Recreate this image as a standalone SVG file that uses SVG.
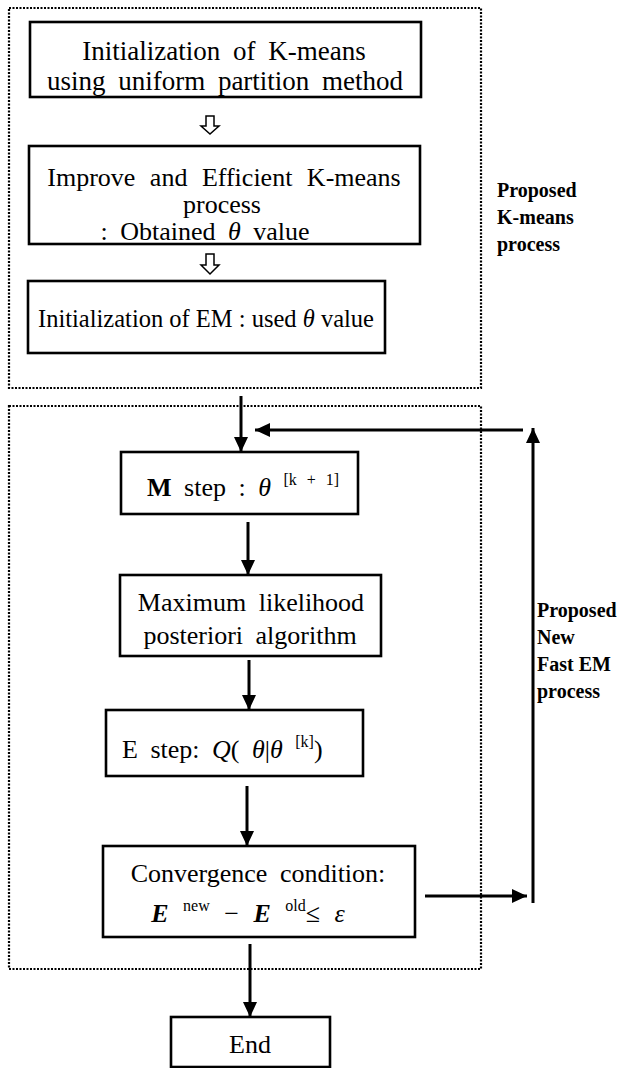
<svg xmlns="http://www.w3.org/2000/svg" width="631" height="1068" viewBox="0 0 631 1068">
<style>
.bg{fill:#fff}
.box{fill:#fff;stroke:#000;stroke-width:2.6}
.dot{fill:none;stroke:#000;stroke-width:2.2;stroke-dasharray:2 1.5}
.t{font-family:"Liberation Serif","Times New Roman",serif;font-size:26px;fill:#000;word-spacing:6px}
.tl{font-size:27px}
.lbl{font-family:"Liberation Serif","Times New Roman",serif;font-size:20px;font-weight:bold;fill:#000}
.sup{font-size:16px}
.it{font-style:italic}
.con{stroke:#000;stroke-width:3;fill:none}
.hollow{fill:#fff;stroke:#000;stroke-width:1.5}
</style>
<defs>
<marker id="ah" markerUnits="userSpaceOnUse" markerWidth="16" markerHeight="14" refX="15" refY="7" orient="auto">
<path d="M0,0 L15,7 L0,14 z" fill="#000"/>
</marker>
</defs>
<rect class="bg" x="0" y="0" width="631" height="1068"/>

<g id="kmeans-frame">
<rect class="dot" x="9" y="8" width="472" height="380"/>
</g>
<g id="em-frame">
<rect class="dot" x="9" y="406" width="472" height="563"/>
</g>

<g id="n1">
<rect class="box" x="30" y="22" width="391" height="75"/>
<text class="t tl" x="224" y="60" text-anchor="middle">Initialization of K-means</text>
<text class="t tl" x="225" y="90" text-anchor="middle">using uniform partition method</text>
</g>
<g id="n2">
<rect class="box" x="29" y="146" width="391" height="98"/>
<text class="t" x="224" y="186" text-anchor="middle" style="word-spacing:8px">Improve and Efficient K-means</text>
<text class="t" x="222" y="213" text-anchor="middle">process</text>
<text class="t" x="205" y="240" text-anchor="middle">: Obtained <tspan class="it">θ</tspan> value</text>
</g>
<g id="n3">
<rect class="box" x="28" y="281" width="357" height="72"/>
<text class="t" x="206" y="327" text-anchor="middle" style="font-size:24.5px;word-spacing:0">Initialization of EM : used <tspan class="it">θ</tspan> value</text>
</g>
<g id="lbl-kmeans">
<text class="lbl" x="497" y="197">Proposed</text>
<text class="lbl" x="497" y="224">K-means</text>
<text class="lbl" x="497" y="251">process</text>
</g>

<g id="n4">
<rect class="box" x="121" y="452" width="237" height="62"/>
<text class="t" x="147" y="496"><tspan font-weight="bold">M</tspan> step : <tspan class="it">θ</tspan> <tspan class="sup" dy="-11">[k + 1]</tspan></text>
</g>
<g id="n5">
<rect class="box" x="120" y="575" width="261" height="81"/>
<text class="t" x="251" y="611" text-anchor="middle">Maximum likelihood</text>
<text class="t" x="250" y="644" text-anchor="middle">posteriori algorithm</text>
</g>
<g id="n6">
<rect class="box" x="106" y="710" width="257" height="66"/>
<text class="t" x="122" y="758">E step: <tspan class="it">Q</tspan>( <tspan class="it">θ</tspan>|<tspan class="it">θ</tspan> <tspan class="sup" dy="-11">[k]</tspan><tspan dy="11">)</tspan></text>
</g>
<g id="n7">
<rect class="box" x="103" y="846" width="312" height="91"/>
<text class="t" x="258" y="882" text-anchor="middle">Convergence condition:</text>
<text class="t" x="248" y="922" text-anchor="middle" style="word-spacing:8px"><tspan class="it" font-weight="bold">E</tspan> <tspan class="sup" dy="-11">new</tspan><tspan dy="11"> − </tspan><tspan class="it" font-weight="bold">E</tspan> <tspan class="sup" dy="-11">old</tspan><tspan dy="11">≤ </tspan><tspan class="it">ε</tspan></text>
</g>
<g id="n8">
<rect class="box" x="171" y="1017" width="159" height="50"/>
<text class="t" x="250" y="1053" text-anchor="middle" font-size="28">End</text>
</g>
<g id="lbl-em">
<text class="lbl" x="537" y="617">Proposed</text>
<text class="lbl" x="537" y="644">New</text>
<text class="lbl" x="537" y="671">Fast EM</text>
<text class="lbl" x="537" y="698">process</text>
</g>

<g id="connectors">
<polygon class="hollow" points="206,116 214,116 214,126 219,126 210,134 201,126 206,126"/>
<polygon class="hollow" points="206,254 214,254 214,265 219,265 210,274 201,265 206,265"/>
<line class="con" x1="241" y1="396" x2="241" y2="452" marker-end="url(#ah)"/>
<line class="con" x1="523" y1="430" x2="255" y2="430" marker-end="url(#ah)"/>
<line class="con" x1="533" y1="903" x2="533" y2="428" marker-end="url(#ah)"/>
<line class="con" x1="248" y1="522" x2="248" y2="575" marker-end="url(#ah)"/>
<line class="con" x1="249" y1="660" x2="249" y2="710" marker-end="url(#ah)"/>
<line class="con" x1="247" y1="786" x2="247" y2="846" marker-end="url(#ah)"/>
<line class="con" x1="425" y1="896" x2="527" y2="896" marker-end="url(#ah)"/>
<line class="con" x1="250" y1="944" x2="250" y2="1017" marker-end="url(#ah)"/>
</g>
</svg>
